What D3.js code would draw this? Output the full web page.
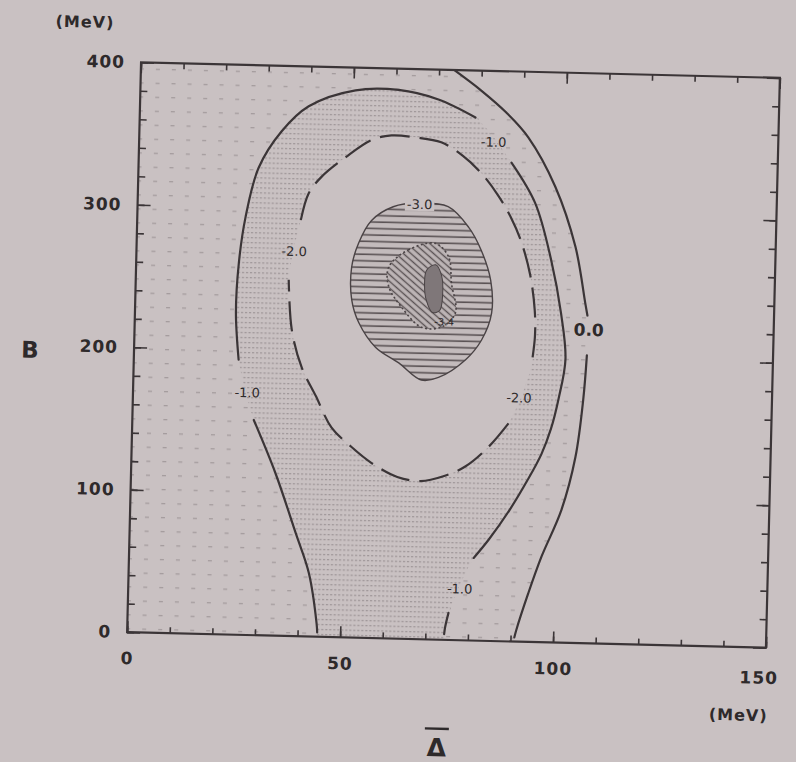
<!DOCTYPE html>
<html>
<head>
<meta charset="utf-8">
<script src="https://cdn.jsdelivr.net/npm/d3@7/dist/d3.min.js"></script>
<style>
  body { margin: 0; background: #c9c1c2; }
  svg { display: block; }
  text { font-family: "DejaVu Sans", sans-serif; fill: #2e2a2b; }
</style>
</head>
<body>
<svg id="chart" width="796" height="762"></svg>
<script>
// axis ticks
const xMinorTicks = d3.range(0, 151, 10);
const xMajorTicks = [0, 50, 100, 150];
const yMinorTicks = d3.range(0, 401, 20);
const yMajorTicks = [0, 100, 200, 300, 400];

// contour 0.0 (split at its label)
const zeroTop = [[73.5, 400], [80, 386], [86, 371], [91.3, 354], [97.9, 320], [103, 278], [105.6, 239], [106.2, 230]];
const zeroBottom = [[106.3, 202], [105.7, 171], [104.2, 130.5], [101.2, 93], [96.8, 60], [93.9, 34], [91.3, 8], [90.9, 3]];

// contour -1.0, open at the bottom axis
const minus1Left = [[44.6, 3], [44.4, 9.6], [42.3, 44.6], [39.0, 72.3], [33.9, 114], [28.5, 151]];
const minus1Top = [[24.6, 193], [23.7, 226], [24.1, 261], [25.4, 293], [28.2, 328], [33.4, 354], [39.6, 372], [50.5, 384], [60.6, 385], [70, 379], [78.8, 367]];
const minus1Right = [[87.5, 336], [93.3, 308], [97.4, 268], [100, 231], [101.3, 199], [99.9, 171], [98.3, 150], [96.2, 132], [93, 113], [89, 92], [84.3, 71], [80.9, 58]];
const minus1Bottom = [[75.3, 19], [74.6, 9], [74.4, 4]];

// contour -2.0 (dashed)
const minus2Upper = [[38.4, 292], [40.1, 311], [43, 322.7], [48.6, 337], [54.6, 349.5], [59.2, 353], [64.9, 352], [70.9, 349], [76, 340], [80.5, 328], [84.5, 313], [87.6, 298], [90.2, 281], [92.5, 258], [93.8, 233], [94, 214], [93.3, 193]];
const minus2Lower = [[88.3, 153], [83.7, 136], [78.4, 122], [73.5, 115], [68, 111], [62.5, 113.5], [56.4, 122.8], [51.6, 133.7], [46.8, 147], [42.9, 169], [39.4, 189], [36.9, 215], [35.9, 250]];

// contour -3.0, -3.4 and the core
const minus3 = [[65.9, 306], [72.9, 304], [77.8, 290], [80.9, 274], [83.3, 253], [83.7, 230], [81.5, 211], [77.8, 196.7], [71.6, 184], [67.6, 181.9], [62.2, 193.5], [56.7, 204], [52.6, 221], [50.8, 237], [50.6, 260], [52.1, 277], [55, 293], [60, 303]];
const minus34 = [[59.3, 260.6], [63.8, 273], [70.1, 278], [73.3, 268.7], [74.1, 250.5], [75.2, 229.5], [72, 219.4], [67.3, 219], [62.5, 232.8], [59.4, 247]];
const core = [[70.3, 263], [71.7, 256], [72.1, 242], [71.5, 231], [69.8, 229.5], [68.3, 238], [67.8, 249], [68.2, 259]];

// contour labels
const contourLabels = [
  { text: '0.0', d: 106.6, b: 220, size: 17, bold: true },
  { text: '-1.0', d: 83.2, b: 350, size: 13 },
  { text: '-1.0', d: 26.8, b: 170, size: 13 },
  { text: '-1.0', d: 77.8, b: 36, size: 13 },
  { text: '-2.0', d: 37.0, b: 270, size: 13 },
  { text: '-2.0', d: 90.6, b: 171, size: 13 },
  { text: '-3.0', d: 66.2, b: 305, size: 13, boxed: true },
  { text: '-3.4', d: 72.6, b: 223, size: 10 }
];

const bg = '#c9c1c2';
const ink = '#3b3537';

const svg = d3.select('#chart');
svg.append('rect').attr('width', 796).attr('height', 762).attr('fill', bg);

// photographed page is slightly tilted
const g = svg.append('g').attr('transform', 'rotate(1.4, 453, 355)');

const xScale = d3.scaleLinear().domain([0, 150]).range([134, 773]);
const yScale = d3.scaleLinear().domain([0, 400]).range([640, 70]);

const defs = svg.append('defs');

const sparse = defs.append('pattern').attr('id', 'sparse')
  .attr('patternUnits', 'userSpaceOnUse').attr('width', 16).attr('height', 14);
sparse.append('rect').attr('x', 5).attr('y', 6).attr('width', 4).attr('height', 1.3)
  .attr('fill', '#8c8486').attr('opacity', 0.6);

const dense = defs.append('pattern').attr('id', 'dense')
  .attr('patternUnits', 'userSpaceOnUse').attr('width', 4).attr('height', 5);
dense.append('rect').attr('width', 4).attr('height', 5).attr('fill', bg);
dense.append('rect').attr('x', 0).attr('y', 2).attr('width', 2.2).attr('height', 1.3)
  .attr('fill', '#8a8284').attr('opacity', 0.65);

const hlines = defs.append('pattern').attr('id', 'hlines')
  .attr('patternUnits', 'userSpaceOnUse').attr('width', 8).attr('height', 6.5);
hlines.append('rect').attr('width', 8).attr('height', 6.5).attr('fill', '#c3bbbc');
hlines.append('line').attr('x1', 0).attr('x2', 8).attr('y1', 3).attr('y2', 3)
  .attr('stroke', '#5a5254').attr('stroke-width', 1.6);

const diag = defs.append('pattern').attr('id', 'diag')
  .attr('patternUnits', 'userSpaceOnUse').attr('width', 5).attr('height', 5)
  .attr('patternTransform', 'rotate(40)');
diag.append('rect').attr('width', 5).attr('height', 5).attr('fill', '#bdb5b6');
diag.append('line').attr('x1', 0).attr('x2', 5).attr('y1', 2.5).attr('y2', 2.5)
  .attr('stroke', '#5a5254').attr('stroke-width', 1.4);

defs.append('clipPath').attr('id', 'plot-clip')
  .append('rect')
  .attr('x', xScale(0)).attr('y', yScale(400))
  .attr('width', xScale(150) - xScale(0)).attr('height', yScale(0) - yScale(400));

const line = d3.line()
  .x(d => xScale(d[0])).y(d => yScale(d[1]))
  .curve(d3.curveCatmullRom.alpha(0.5));
const closedLine = d3.line()
  .x(d => xScale(d[0])).y(d => yScale(d[1]))
  .curve(d3.curveCatmullRomClosed.alpha(0.5));

const plot = g.append('g').attr('clip-path', 'url(#plot-clip)');

// band 0 .. -1 : everything left of the 0.0 contour
const zeroAll = zeroTop.concat(zeroBottom);
plot.append('path')
  .attr('d', line(zeroAll) + `L${xScale(zeroAll[zeroAll.length - 1][0])},${yScale(0)}L${xScale(0)},${yScale(0)}L${xScale(0)},${yScale(400)}L${xScale(zeroAll[0][0])},${yScale(400)}Z`)
  .attr('fill', 'url(#sparse)');

// band -1 .. -2
const minus1All = minus1Left.concat(minus1Top, minus1Right, minus1Bottom);
plot.append('path')
  .attr('d', line(minus1All) + `L${xScale(minus1All[minus1All.length - 1][0])},${yScale(0)}L${xScale(minus1All[0][0])},${yScale(0)}Z`)
  .attr('fill', 'url(#dense)');

// band -2 .. -3 (plain)
const minus2All = minus2Upper.concat(minus2Lower);
plot.append('path').attr('d', closedLine(minus2All)).attr('fill', bg);

// band -3 .. -3.4
plot.append('path').attr('d', closedLine(minus3))
  .attr('fill', 'url(#hlines)')
  .attr('stroke', '#4a4345').attr('stroke-width', 1.4);

// band below -3.4
plot.append('path').attr('d', closedLine(minus34))
  .attr('fill', 'url(#diag)')
  .attr('stroke', '#4a4345').attr('stroke-width', 1.6).attr('stroke-dasharray', '2 2.5');

plot.append('path').attr('d', closedLine(core))
  .attr('fill', '#7f7779').attr('stroke', '#4a4345').attr('stroke-width', 1);

// contour lines
[zeroTop, zeroBottom, minus1Left, minus1Top, minus1Right, minus1Bottom].forEach(seg => {
  plot.append('path').attr('d', line(seg))
    .attr('fill', 'none').attr('stroke', ink).attr('stroke-width', 2.2)
    .attr('stroke-linecap', 'round');
});
[minus2Upper, minus2Lower].forEach(seg => {
  plot.append('path').attr('d', line(seg))
    .attr('fill', 'none').attr('stroke', ink).attr('stroke-width', 2.2)
    .attr('stroke-dasharray', '30 10');
});

// contour labels
contourLabels.forEach(l => {
  const t = plot.append('text')
    .attr('x', xScale(l.d)).attr('y', yScale(l.b))
    .attr('text-anchor', 'middle').attr('dominant-baseline', 'central')
    .style('font-size', l.size + 'px')
    .style('font-weight', l.bold ? 'bold' : 'normal')
    .text(l.text);
  if (l.boxed) {
    const bb = t.node().getBBox();
    plot.insert('rect', 'text')
      .attr('x', bb.x - 2).attr('y', bb.y + 1).attr('width', bb.width + 4).attr('height', bb.height - 2)
      .attr('fill', bg);
  }
});

// axes, ticks pointing inward on all four sides
function styleAxis(sel) {
  sel.select('.domain').remove();
  sel.selectAll('.tick line').attr('stroke', ink).attr('stroke-width', 1.6);
  sel.selectAll('.tick text')
    .style('font-family', '"DejaVu Sans", sans-serif')
    .style('font-size', '17px').style('font-weight', 'bold')
    .style('letter-spacing', '1px').attr('fill', '#2e2a2b');
}

g.append('g').attr('transform', `translate(0,${yScale(0)})`)
  .call(d3.axisBottom(xScale).tickValues(xMinorTicks).tickSize(-6).tickFormat(''))
  .call(styleAxis);
const xAxisMajor = g.append('g').attr('transform', `translate(0,${yScale(0)})`)
  .call(d3.axisBottom(xScale).tickValues(xMajorTicks).tickSize(-11).tickPadding(20))
  .call(styleAxis);
// last label sits a little inside the corner in the original
xAxisMajor.selectAll('.tick text').filter(d => d === 150).attr('x', -7).attr('y', 24);

g.append('g').attr('transform', `translate(0,${yScale(400)})`)
  .call(d3.axisTop(xScale).tickValues(xMinorTicks).tickSize(-6).tickFormat(''))
  .call(styleAxis);
g.append('g').attr('transform', `translate(0,${yScale(400)})`)
  .call(d3.axisTop(xScale).tickValues(xMajorTicks).tickSize(-11).tickFormat(''))
  .call(styleAxis);

g.append('g').attr('transform', `translate(${xScale(0)},0)`)
  .call(d3.axisLeft(yScale).tickValues(yMinorTicks).tickSize(-7).tickFormat(''))
  .call(styleAxis);
g.append('g').attr('transform', `translate(${xScale(0)},0)`)
  .call(d3.axisLeft(yScale).tickValues(yMajorTicks).tickSize(-13).tickPadding(16))
  .call(styleAxis);
g.append('g').attr('transform', `translate(${xScale(150)},0)`)
  .call(d3.axisRight(yScale).tickValues(yMinorTicks).tickSize(-7).tickFormat(''))
  .call(styleAxis);
g.append('g').attr('transform', `translate(${xScale(150)},0)`)
  .call(d3.axisRight(yScale).tickValues(yMajorTicks).tickSize(-13).tickFormat(''))
  .call(styleAxis);

// frame
g.append('rect')
  .attr('x', xScale(0)).attr('y', yScale(400))
  .attr('width', xScale(150) - xScale(0)).attr('height', yScale(0) - yScale(400))
  .attr('fill', 'none').attr('stroke', ink).attr('stroke-width', 2.2);

// axis titles and units
g.append('text').attr('x', 77).attr('y', 31)
  .attr('text-anchor', 'middle').attr('dominant-baseline', 'central')
  .style('font-size', '16px').style('font-weight', 'bold').style('letter-spacing', '1px')
  .text('(MeV)');
g.append('text').attr('x', 747).attr('y', 708)
  .attr('text-anchor', 'middle').attr('dominant-baseline', 'central')
  .style('font-size', '16px').style('font-weight', 'bold').style('letter-spacing', '1px')
  .text('(MeV)');
g.append('text').attr('x', 30).attr('y', 360)
  .attr('text-anchor', 'middle').attr('dominant-baseline', 'central')
  .style('font-size', '23px').style('font-weight', 'bold')
  .text('B');
g.append('text').attr('x', 446).attr('y', 748)
  .attr('text-anchor', 'middle').attr('dominant-baseline', 'central')
  .style('font-size', '25px').style('font-weight', 'bold')
  .text('Δ');
g.append('line')
  .attr('x1', 434).attr('x2', 458).attr('y1', 729).attr('y2', 729)
  .attr('stroke', '#2e2a2b').attr('stroke-width', 2.4);
</script>
</body>
</html>
